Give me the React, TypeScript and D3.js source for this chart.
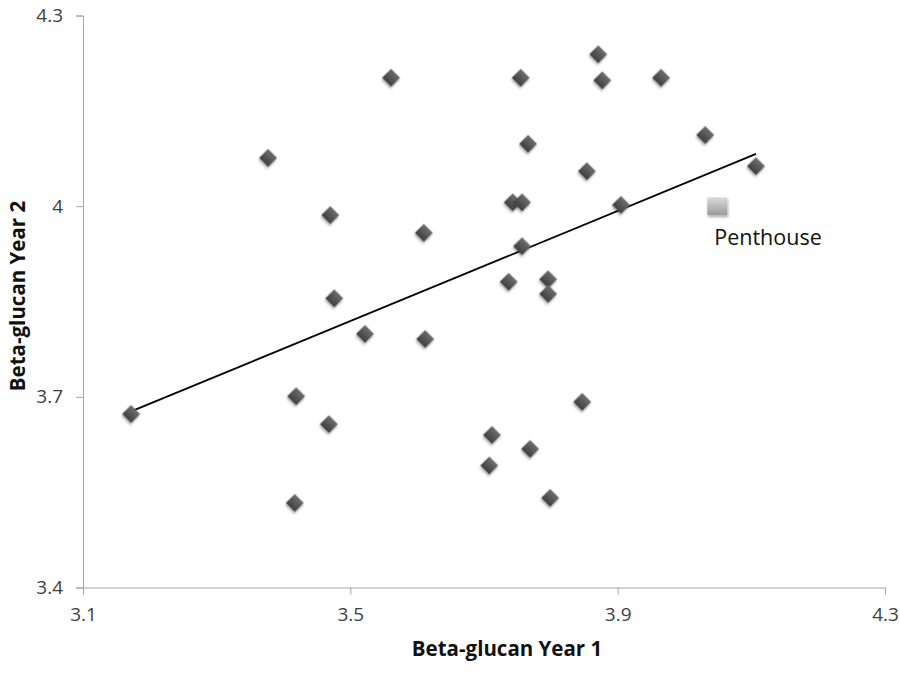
import React, { useEffect, useRef } from 'react';
import * as d3 from 'd3';

// Beta-glucan readings, year 1 (x) vs year 2 (y)
const year1 = [3.172, 3.377, 3.419, 3.417, 3.470, 3.468, 3.476, 3.522, 3.561, 3.610, 3.612,
  3.755, 3.871, 3.877, 3.965, 3.766, 3.854, 3.743, 3.757, 3.905, 3.757, 3.737, 3.796, 3.796,
  3.847, 3.712, 3.769, 3.708, 3.799, 4.031, 4.107];
const year2 = [3.673, 4.076, 3.701, 3.533, 3.986, 3.657, 3.855, 3.799, 4.202, 3.958, 3.791,
  4.202, 4.239, 4.198, 4.202, 4.098, 4.055, 4.006, 4.006, 4.002, 3.937, 3.881, 3.885, 3.862,
  3.692, 3.640, 3.618, 3.592, 3.541, 4.112, 4.063];
const penthouse = { label: 'Penthouse', x: 4.049, y: 4.0 };
const xTicks = [3.1, 3.5, 3.9, 4.3];
const yTicks = [3.4, 3.7, 4.0, 4.3];

const W = 900, H = 690;

export default function App() {
  const ref = useRef<SVGSVGElement>(null);

  useEffect(() => {
    const svg = d3.select(ref.current);
    svg.selectAll('*').remove();

    const font = '"Open Sans", Lato, sans-serif';
    const x = d3.scaleLinear().domain([3.1, 4.3]).range([83, 885]);
    const y = d3.scaleLinear().domain([3.4, 4.3]).range([587.5, 15.5]);

    const defs = svg.append('defs');
    const g1 = defs.append('linearGradient').attr('id', 'dg').attr('x1', 0).attr('y1', 0).attr('x2', 0).attr('y2', 1);
    g1.append('stop').attr('offset', '0%').attr('stop-color', '#6e6e6e');
    g1.append('stop').attr('offset', '100%').attr('stop-color', '#3f3f3f');
    const g2 = defs.append('linearGradient').attr('id', 'sg').attr('x1', 0).attr('y1', 0).attr('x2', 0).attr('y2', 1);
    g2.append('stop').attr('offset', '0%').attr('stop-color', '#dcdcdc');
    g2.append('stop').attr('offset', '100%').attr('stop-color', '#9a9a9a');
    const f = defs.append('filter').attr('id', 'sh').attr('x', '-50%').attr('y', '-50%').attr('width', '200%').attr('height', '200%');
    f.append('feDropShadow').attr('dx', 1).attr('dy', 2).attr('stdDeviation', 1.2).attr('flood-color', '#000').attr('flood-opacity', 0.3);

    // axes
    const yAxis = d3.axisLeft(y).tickValues(yTicks).tickSize(7).tickPadding(13)
      .tickFormat(d => d3.format('~g')(d as number));
    const gy = svg.append('g').attr('transform', 'translate(83,0)').call(yAxis);
    const xAxis = d3.axisBottom(x).tickValues(xTicks).tickSize(7).tickPadding(13)
      .tickFormat(d => d3.format('~g')(d as number));
    const gx = svg.append('g').attr('transform', 'translate(0,587.5)').call(xAxis);
    [gx, gy].forEach(g => {
      g.select('.domain').attr('stroke', '#a6a6a6');
      g.selectAll('.tick line').attr('stroke', '#a6a6a6');
      g.selectAll('.tick text').attr('fill', '#404040').style('font-family', font).style('font-size', '19px');
    });

    const pts = year1.map((v, i) => ({ x: v, y: year2[i] }));

    // least-squares trendline
    const mx = d3.mean(pts, d => d.x)!, my = d3.mean(pts, d => d.y)!;
    const slope = d3.sum(pts, d => (d.x - mx) * (d.y - my)) / d3.sum(pts, d => (d.x - mx) ** 2);
    const [x0, x1] = d3.extent(pts, d => d.x) as [number, number];
    svg.append('line')
      .attr('x1', x(x0)).attr('y1', y(my + slope * (x0 - mx)))
      .attr('x2', x(x1)).attr('y2', y(my + slope * (x1 - mx)))
      .attr('stroke', '#000').attr('stroke-width', 1.8);

    const diamond = d3.symbol().type(d3.symbolSquare).size(162)();
    svg.append('g').selectAll('path').data(pts).enter().append('path')
      .attr('d', diamond)
      .attr('transform', d => `translate(${x(d.x)},${y(d.y)}) rotate(45)`)
      .attr('fill', 'url(#dg)')
      .attr('filter', 'url(#sh)');

    svg.append('rect')
      .attr('x', x(penthouse.x) - 10).attr('y', y(penthouse.y) - 9)
      .attr('width', 20).attr('height', 18).attr('rx', 1)
      .attr('fill', 'url(#sg)').attr('filter', 'url(#sh)');
    svg.append('text')
      .attr('x', x(penthouse.x) - 3).attr('y', y(penthouse.y) + 39)
      .style('font-family', font).style('font-size', '21.5px').attr('fill', '#111')
      .text(penthouse.label);

    svg.append('text')
      .attr('x', 507).attr('y', 656).attr('text-anchor', 'middle')
      .style('font-family', font).style('font-size', '20.5px').style('font-weight', 'bold')
      .attr('fill', '#111').text('Beta-glucan Year 1');
    svg.append('text')
      .attr('transform', 'translate(25,296) rotate(-90)').attr('text-anchor', 'middle')
      .style('font-family', font).style('font-size', '20.5px').style('font-weight', 'bold')
      .attr('fill', '#111').text('Beta-glucan Year 2');
  }, []);

  return (
    <svg ref={ref} width={W} height={H} style={{ position: 'absolute', left: 0, top: 0, background: '#fff' }} />
  );
}
